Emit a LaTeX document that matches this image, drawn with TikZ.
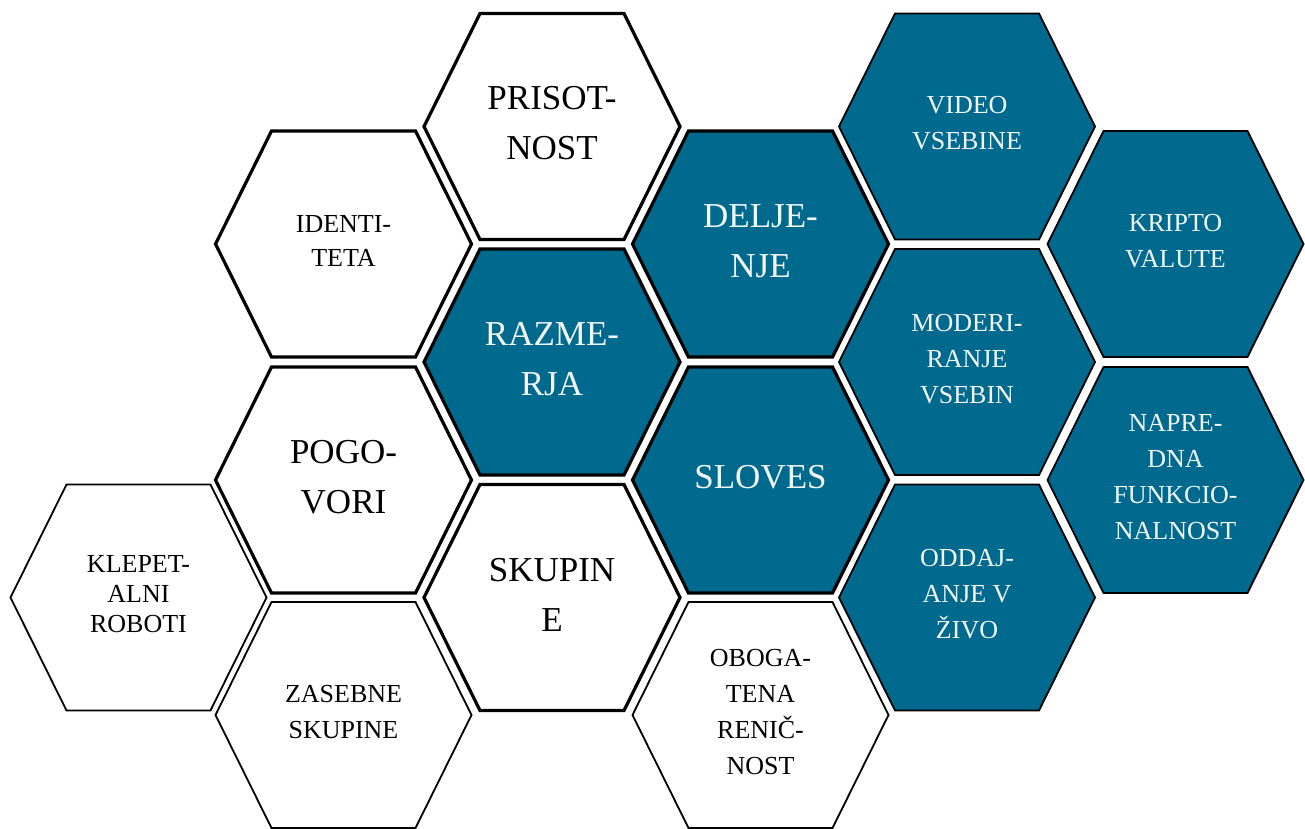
\documentclass[tikz,border=0pt]{standalone}
\usepackage{fontspec}
\setmainfont{Liberation Serif}
\definecolor{hexblue}{RGB}{0,106,142}
\definecolor{hextext}{RGB}{242,246,248}
\tikzset{
  thickhex/.style={draw=black, line width=3.2pt},
  thinhex/.style={draw=black, line width=1.8pt},
  whitefill/.style={fill=white},
  bluefill/.style={fill=hexblue},
  bigtxt/.style={align=center, font=\fontsize{35}{50}\selectfont},
  smalltxt/.style={align=center, font=\fontsize{26}{36}\selectfont},
  darktxt/.style={text=black},
  lighttxt/.style={text=hextext},
}
\newcommand\hexcell[6]{%
  \draw[#4, shift={(#2,#3)}] (-128,0) -- (-72,-113) -- (72,-113) -- (128,0) -- (72,113) -- (-72,113) -- cycle;
  \node[#5] (#1) at (#2,#3-3) {#6};}
\begin{document}
\begin{tikzpicture}[x=1pt,y=-1pt]
\useasboundingbox (0,0) rectangle (1305,828);
% column 1
\hexcell{klep}{138.5}{597.5}{thinhex,whitefill}{smalltxt,darktxt,font=\fontsize{26}{30}\selectfont}{KLEPET-\\ALNI\\ROBOTI}
% column 2
\hexcell{iden}{343.5}{244}{thickhex,whitefill}{smalltxt,darktxt,font=\fontsize{26}{34}\selectfont}{IDENTI-\\TETA}
\hexcell{pogo}{343.5}{480}{thickhex,whitefill}{bigtxt,darktxt}{POGO-\\VORI}
\hexcell{zase}{343.5}{715}{thinhex,whitefill}{smalltxt,darktxt}{ZASEBNE\\SKUPINE}
% column 3
\hexcell{pris}{552}{126.5}{thickhex,whitefill}{bigtxt,darktxt}{PRISOT-\\NOST}
\hexcell{razm}{552}{362}{thickhex,bluefill}{bigtxt,lighttxt}{RAZME-\\RJA}
\hexcell{skup}{552}{597.5}{thickhex,whitefill}{bigtxt,darktxt}{SKUPIN\\E}
% column 4
\hexcell{delj}{760.5}{244}{thickhex,bluefill}{bigtxt,lighttxt}{DELJE-\\NJE}
\hexcell{slov}{760.5}{480}{thickhex,bluefill}{bigtxt,lighttxt}{SLOVES}
\hexcell{obog}{760.5}{715}{thinhex,whitefill}{smalltxt,darktxt}{OBOGA-\\TENA\\RENIČ-\\NOST}
% column 5
\hexcell{vide}{967}{126.5}{thinhex,bluefill}{smalltxt,lighttxt}{VIDEO\\VSEBINE}
\hexcell{mode}{967}{362}{thinhex,bluefill}{smalltxt,lighttxt}{MODERI-\\RANJE\\VSEBIN}
\hexcell{odda}{967}{597.5}{thinhex,bluefill}{smalltxt,lighttxt}{ODDAJ-\\ANJE V\\ŽIVO}
% column 6
\hexcell{krip}{1175.5}{244}{thinhex,bluefill}{smalltxt,lighttxt}{KRIPTO\\VALUTE}
\hexcell{napr}{1175.5}{480}{thinhex,bluefill}{smalltxt,lighttxt}{NAPRE-\\DNA\\FUNKCIO-\\NALNOST}
\end{tikzpicture}
\end{document}
